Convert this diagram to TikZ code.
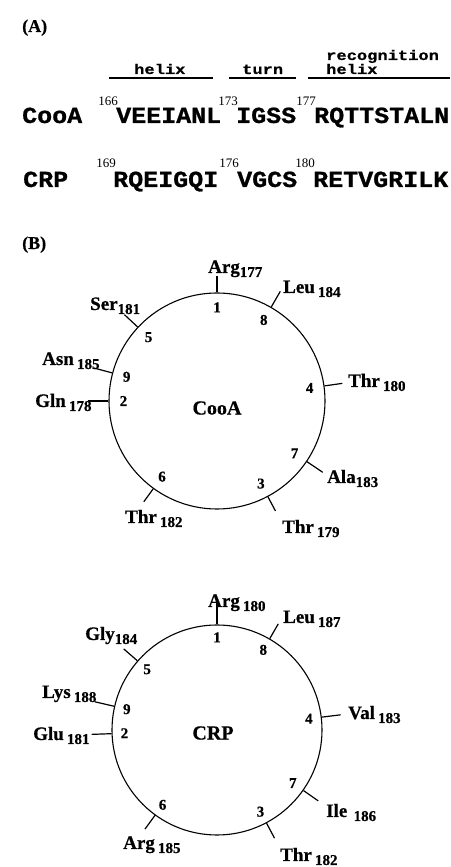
\documentclass[tikz,border=0pt]{standalone}
\usepackage{fontspec}
\setmainfont{Liberation Serif}[BoldFeatures={FakeBold=0.6}]
\newfontfamily\seqfont{Liberation Mono}[FakeStretch=1.087, BoldFeatures={FakeBold=0.9}]
\newfontfamily\labfont{Liberation Mono}[FakeStretch=1.22, BoldFeatures={FakeBold=0.8}]
\newcommand{\resub}[1]{\raisebox{-4pt}{\fontsize{15}{16}\selectfont#1}}
\usetikzlibrary{positioning, calc}

\begin{document}
\begin{tikzpicture}[x=1pt, y=1pt,
  panel/.style={anchor=base west, inner sep=0, font=\fontsize{18}{20}\selectfont\bfseries},
  seq/.style={anchor=base west, inner sep=0, font=\fontsize{23}{24}\seqfont\bfseries},
  segname/.style={anchor=base west, inner sep=0, font=\fontsize{14}{16}\labfont\bfseries},
  resnum/.style={anchor=base east, inner sep=0, font=\fontsize{13}{14}\selectfont},
  bar/.style={line width=1.8pt},
  wheel/.style={circle, draw, line width=1.1pt, inner sep=0},
  wheelname/.style={inner sep=0, font=\fontsize{20}{22}\selectfont\bfseries},
  wheelpos/.style={inner sep=0, font=\fontsize{15}{16}\selectfont\bfseries},
  res/.style={anchor=base west, inner sep=0, font=\fontsize{19}{21}\selectfont\bfseries},
  spoke/.style={line width=1.2pt}]

\useasboundingbox (0,0) rectangle (450,867);

% (A) sequences
\node[panel] (pa) at (22,835) {(A)};

\node[segname] (seg-helix) at (134,793) {helix};
\node[segname] (seg-turn) at (242,793) {turn};
\node[segname] (seg-rec) at (326,807) {recognition};
\node[segname] (seg-rhelix) at (326,793) {helix};
\draw[bar] (109,789) -- (213,789);
\draw[bar] (229,789) -- (296,789);
\draw[bar] (308,789) -- (450,789);

\node[seq] (cooa-name) at (22,744) {CooA};
\node[seq] (cooa-s1) at (116,744) {VEEIANL};
\node[resnum] at (118,761) {166};
\node[seq] (cooa-s2) at (236,744) {IGSS};
\node[resnum] at (238,761) {173};
\node[seq] (cooa-s3) at (314,744) {RQTTSTALN};
\node[resnum] at (316,761) {177};

\node[seq] (crp-name) at (23,680) {CRP};
\node[seq] (crp-s1) at (113,680) {RQEIGQI};
\node[resnum] at (116,699) {169};
\node[seq] (crp-s2) at (237,680) {VGCS};
\node[resnum] at (239,699) {176};
\node[seq] (crp-s3) at (313,680) {RETVGRILK};
\node[resnum] at (315,699) {180};

% (B) helical wheels
\node[panel] (pb) at (22,618) {(B)};

\node[wheel, minimum size=216pt] (cooa-wheel) at (217,466) {};
\node[wheelname] (cooa-title) at ([yshift=-7pt]cooa-wheel.center) {CooA};

\foreach \a/\n/\l/\p/\t in {
  90/1/16/{208,594}/{Arg\resub{177}},
  60/8/18/{283,574}/{Leu\,\resub{184}},
  137/5/18/{90,557}/{Ser\resub{181}},
  165/9/19/{42,502}/{Asn\,\resub{185}},
  180/2/20/{35,460}/{Gln\,\resub{178}},
  8/4/18/{348,480}/{Thr\,\resub{180}},
  -34/7/19/{327,384}/{Ala\resub{183}},
  -62/3/16/{282,334}/{Thr\,\resub{179}},
  -126/6/16/{125,344}/{Thr\,\resub{182}}} {
        \draw[spoke] (cooa-wheel.\a) -- ++(\a:\l) coordinate (cooa-tip\n);
        \node[wheelpos] (cooa-\n) at ([shift={(\a+180:15)}]cooa-wheel.\a) {\n};
        \node[res] (cooa-res\n) at (\p) {\t};
}

\node[wheel, minimum size=210pt] (crp-wheel) at (217,137) {};
\node[wheelname] (crp-title) at ([shift={(-4,-3)}]crp-wheel.center) {CRP};

\foreach \a/\n/\l/\p/\t in {
  90/1/25/{208,260}/{Arg\,\resub{180}},
  60/8/17/{283,244}/{Leu\,\resub{187}},
  139/5/18/{85,227}/{Gly\resub{184}},
  167/9/20/{42,169}/{Lys\,\resub{188}},
  182/2/20/{33,127}/{Glu\,\resub{181}},
  7/4/19/{348,148}/{Val\,\resub{183}},
  -35/7/18/{326,50}/{Ile\,\,\resub{186}},
  -62/3/17/{280,6}/{Thr\,\resub{182}},
  -126/6/17/{123,18}/{Arg\,\resub{185}}} {
        \draw[spoke] (crp-wheel.\a) -- ++(\a:\l) coordinate (crp-tip\n);
        \node[wheelpos] (crp-\n) at ([shift={(\a+180:13)}]crp-wheel.\a) {\n};
        \node[res] (crp-res\n) at (\p) {\t};
}

\end{tikzpicture}
\end{document}
